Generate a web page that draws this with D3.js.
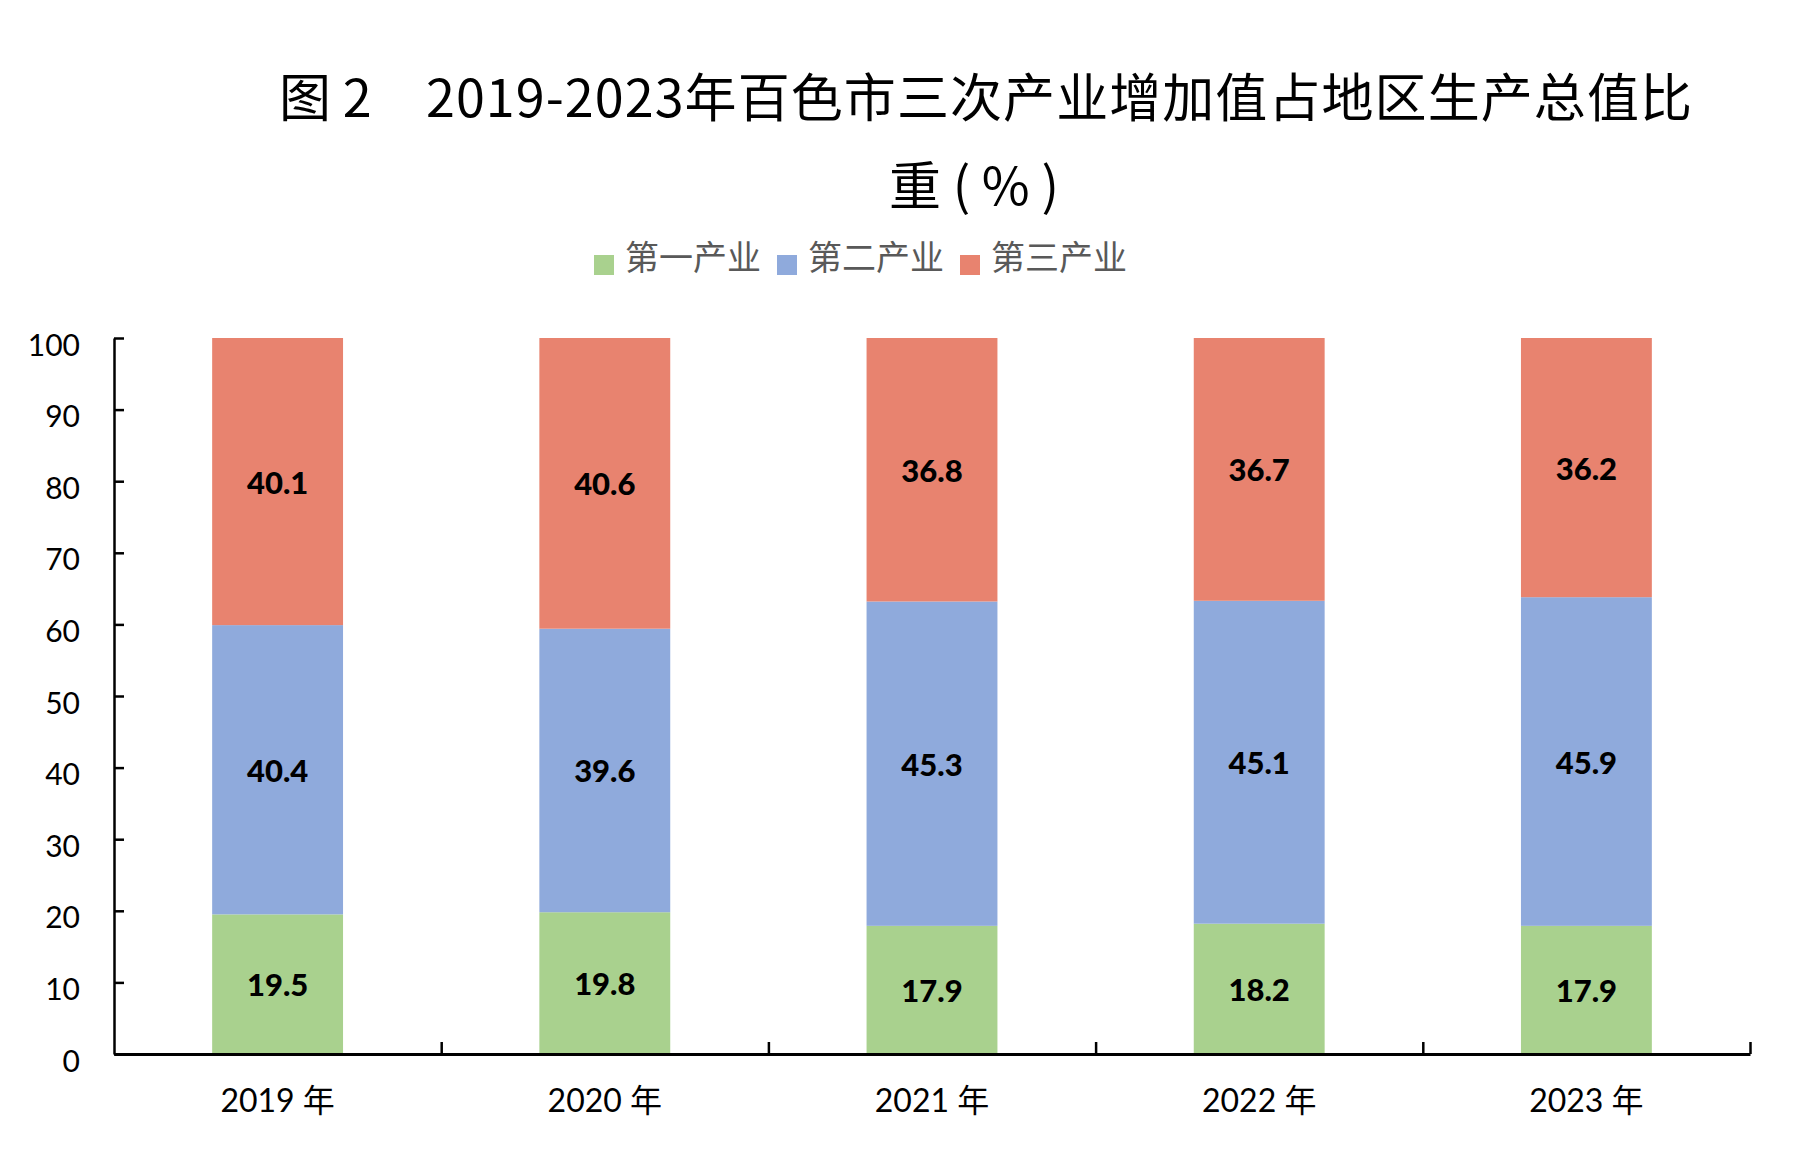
<!DOCTYPE html>
<html>
<head>
<meta charset="utf-8">
<script src="https://cdn.jsdelivr.net/npm/d3@7"></script>
<style>
  body { margin: 0; background: #fff; }
  text { font-family: Lato, "Noto Sans CJK SC", sans-serif; }
</style>
</head>
<body>
<script>
// data
let years = ["2019 年", "2020 年", "2021 年", "2022 年", "2023 年"]
let seriesNames = ["第一产业", "第二产业", "第三产业"]
let primary = [19.5, 19.8, 17.9, 18.2, 17.9]
let secondary = [40.4, 39.6, 45.3, 45.1, 45.9]
let tertiary = [40.1, 40.6, 36.8, 36.7, 36.2]
let yTicks = [0, 10, 20, 30, 40, 50, 60, 70, 80, 90, 100]

let colors = ["#A9D18E", "#8FAADC", "#E8836F"]

let width = 1806
let height = 1176
let plotLeft = 114, plotRight = 1750, plotTop = 338, plotBottom = 1054

let svg = d3.select("body").append("svg")
    .attr("width", width)
    .attr("height", height)

// title
svg.append("text")
    .attr("x", 279)
    .attr("y", 117)
    .style("font-family", "'Noto Sans CJK SC', sans-serif")
    .style("font-size", "52px")
    .text("图 2")
svg.append("text")
    .attr("x", 426)
    .attr("y", 117)
    .attr("textLength", 1266)
    .attr("lengthAdjust", "spacing")
    .style("font-family", "'Noto Sans CJK SC', sans-serif")
    .style("font-size", "52px")
    .text("2019-2023年百色市三次产业增加值占地区生产总值比")
svg.append("text")
    .attr("x", 974)
    .attr("y", 205)
    .attr("text-anchor", "middle")
    .style("font-family", "'Noto Sans CJK SC', sans-serif")
    .style("font-size", "52px")
    .text("重 ( % )")

// legend
let legend = svg.append("g")
    .selectAll("g")
    .data(seriesNames).enter()
    .append("g")
    .attr("transform", (d, i) => "translate(" + (594 + i * 183) + ",0)")
legend.append("rect")
    .attr("x", 0)
    .attr("y", 255)
    .attr("width", 20)
    .attr("height", 20)
    .attr("fill", (d, i) => colors[i])
legend.append("text")
    .attr("x", 31)
    .attr("y", 270)
    .style("font-family", "'Noto Sans CJK SC', sans-serif")
    .style("font-size", "34px")
    .style("fill", "#595959")
    .text(d => d)

// scales
let x = d3.scaleBand()
    .domain(years)
    .range([plotLeft, plotRight])
    .paddingInner(0.6)
    .paddingOuter(0.3)
let y = d3.scaleLinear()
    .domain([0, 100])
    .range([plotBottom, plotTop])

// stack
let rows = years.map((yr, i) => ({ year: yr, s0: primary[i], s1: secondary[i], s2: tertiary[i] }))
let stack = d3.stack().keys(["s0", "s1", "s2"])(rows)

let layers = svg.append("g")
    .selectAll("g")
    .data(stack).enter()
    .append("g")
    .attr("fill", (d, i) => colors[i])

layers.selectAll("rect")
    .data(d => d).enter()
    .append("rect")
    .attr("x", d => x(d.data.year))
    .attr("y", d => y(d[1]))
    .attr("width", x.bandwidth())
    .attr("height", d => y(d[0]) - y(d[1]))

layers.selectAll("text")
    .data(d => d.map(v => ({ v: v, key: d.key }))).enter()
    .append("text")
    .attr("x", d => x(d.v.data.year) + x.bandwidth() / 2)
    .attr("y", d => y((d.v[0] + d.v[1]) / 2))
    .attr("dy", 12)
    .attr("text-anchor", "middle")
    .style("font-size", "31px")
    .style("font-weight", "900")
    .style("fill", "#000")
    .text(d => d.v.data[d.key].toFixed(1))

// y axis
let yAxis = svg.append("g")
    .attr("transform", "translate(" + plotLeft + ",0)")
    .call(d3.axisLeft(y).tickValues(yTicks).tickSizeInner(-10).tickSizeOuter(0).tickPadding(34))
yAxis.select(".domain").attr("stroke", "#000").attr("stroke-width", 2.5)
yAxis.selectAll(".tick line").attr("stroke", "#000").attr("stroke-width", 2.5)
yAxis.selectAll(".tick text")
    .attr("dy", 17)
    .style("font-size", "30px")
    .style("font-family", "Lato, sans-serif")
    .style("fill", "#000")

// x axis: boundary ticks
let xEdges = d3.scaleLinear().domain([0, years.length]).range([plotLeft, plotRight])
let xAxis = svg.append("g")
    .attr("transform", "translate(0," + plotBottom + ")")
    .call(d3.axisBottom(xEdges).tickValues(d3.range(1, years.length + 1)).tickSizeInner(-12).tickSizeOuter(0).tickFormat(""))
xAxis.select(".domain").attr("stroke", "#000").attr("stroke-width", 3)
xAxis.selectAll(".tick line").attr("stroke", "#000").attr("stroke-width", 2.5)

// x axis: category labels
let xLabels = svg.append("g")
    .attr("transform", "translate(0," + plotBottom + ")")
    .call(d3.axisBottom(x).tickSize(0).tickPadding(0))
xLabels.select(".domain").remove()
xLabels.selectAll(".tick text")
    .attr("y", 58)
    .attr("dy", 0)
    .style("font-size", "32px")
    .style("font-family", "Lato, 'Noto Sans CJK SC', sans-serif")
    .style("fill", "#000")
</script>
</body>
</html>
